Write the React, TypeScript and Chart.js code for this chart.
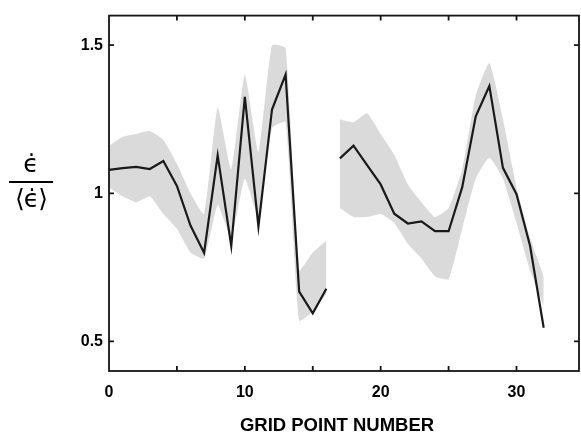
import React, { useEffect, useRef } from "react";
import { Chart, registerables } from "chart.js";

Chart.register(...registerables);

// Grid point numbers (x)
const gridPoints = [0, 1, 2, 3, 4, 5, 6, 7, 8, 9, 10, 11, 12, 13, 14, 15, 16, 17, 18, 19, 20, 21, 22, 23, 24, 25, 26, 27, 28, 29, 30, 31, 32];
// Model strain-rate ratio (black line)
const strainRatio = [1.079, 1.085, 1.089, 1.082, 1.109, 1.025, 0.891, 0.799, 1.128, 0.822, 1.326, 0.888, 1.283, 1.401, 0.668, 0.595, 0.678, 1.118, 1.161, 1.095, 1.03, 0.931, 0.898, 0.905, 0.872, 0.872, 1.02, 1.26, 1.362, 1.086, 0.997, 0.822, 0.546];
// Observed scatter envelope (gray cloud)
const cloudUpper = [1.16, 1.19, 1.2, 1.21, 1.18, 1.1, 1.0, 0.93, 1.29, 1.08, 1.4, 1.14, 1.5, 1.49, 0.74, 0.8, 0.84, 1.25, 1.24, 1.27, 1.2, 1.13, 1.03, 0.97, 0.92, 0.95, 1.08, 1.33, 1.44, 1.25, 1.02, 0.85, 0.72];
const cloudLower = [1.02, 0.99, 0.97, 0.99, 0.93, 0.88, 0.8, 0.78, 0.96, 0.85, 1.05, 0.92, 1.22, 1.24, 0.57, 0.6, 0.66, 0.95, 0.92, 0.92, 0.93, 0.9, 0.83, 0.78, 0.72, 0.71, 0.88, 1.05, 1.12, 1.05, 0.9, 0.74, 0.62];
const gapAfter = 16;
const xTickValues = [0, 5, 10, 15, 20, 25, 30];
const xLabelValues = [0, 10, 20, 30];
const yTickValues = [0.5, 1, 1.5];
const xTitle = "GRID POINT NUMBER";

function withGap(values: number[]) {
  const out: { x: number; y: number | null }[] = [];
  gridPoints.forEach((g, i) => {
    out.push({ x: g, y: values[i] });
    if (g === gapAfter) out.push({ x: g + 0.5, y: null });
  });
  return out;
}

const framePlugin = {
  id: "frame",
  afterDraw(chart: any) {
    const { ctx, chartArea } = chart;
    const { left, right, top, bottom } = chartArea;
    const xs = chart.scales.x;
    const ys = chart.scales.y;
    ctx.save();
    ctx.strokeStyle = "#151515";
    ctx.lineWidth = 1.8;
    ctx.strokeRect(left, top, right - left, bottom - top);
    const tl = 5;
    ctx.beginPath();
    xTickValues.forEach((v) => {
      const px = xs.getPixelForValue(v);
      if (px <= left + 1 || px >= right - 1) return;
      ctx.moveTo(px, bottom);
      ctx.lineTo(px, bottom - tl);
      ctx.moveTo(px, top);
      ctx.lineTo(px, top + tl);
    });
    yTickValues.forEach((v) => {
      const py = ys.getPixelForValue(v);
      ctx.moveTo(left, py);
      ctx.lineTo(left + tl, py);
      ctx.moveTo(right, py);
      ctx.lineTo(right - tl, py);
    });
    ctx.stroke();
    ctx.restore();
  },
};

function App() {
  const ref = useRef<HTMLCanvasElement | null>(null);
  useEffect(() => {
    if (!ref.current) return;
    const tickFont = { family: "'Liberation Sans', Arial, sans-serif", size: 16, weight: "bold" as const };
    const chart = new Chart(ref.current, {
      type: "line",
      data: {
        datasets: [
          {
            label: "model",
            data: withGap(strainRatio),
            borderColor: "#1a1a1a",
            borderWidth: 2.2,
            pointRadius: 0,
            tension: 0,
            spanGaps: false,
            fill: false,
          },
          {
            label: "cloudLower",
            data: withGap(cloudLower),
            borderColor: "rgba(0,0,0,0)",
            borderWidth: 0,
            pointRadius: 0,
            tension: 0.15,
            spanGaps: false,
            fill: false,
          },
          {
            label: "cloudUpper",
            data: withGap(cloudUpper),
            borderColor: "rgba(0,0,0,0)",
            backgroundColor: "rgba(205,205,205,0.75)",
            borderWidth: 0,
            pointRadius: 0,
            tension: 0.15,
            spanGaps: false,
            fill: "-1",
          },
        ],
      },
      options: {
        animation: false,
        responsive: false,
        layout: { padding: { left: 0, right: 2, top: 7, bottom: 0 } },
        plugins: { legend: { display: false }, tooltip: { enabled: false } },
        scales: {
          x: {
            type: "linear",
            min: 0,
            max: 34.6,
            grid: { display: false, drawTicks: false },
            border: { display: false },
            afterBuildTicks: (s: any) => {
              s.ticks = xTickValues.map((v) => ({ value: v }));
            },
            afterFit: (s: any) => {
              s.height = 67;
            },
            ticks: {
              autoSkip: false,
              maxRotation: 0,
              padding: 12,
              color: "#000",
              font: tickFont,
              callback: (v: any) => (xLabelValues.includes(Number(v)) ? String(v) : ""),
            },
          },
          y: {
            min: 0.4,
            max: 1.6,
            grid: { display: false, drawTicks: false },
            border: { display: false },
            afterBuildTicks: (s: any) => {
              s.ticks = yTickValues.map((v) => ({ value: v }));
            },
            afterFit: (s: any) => {
              s.width = 109;
            },
            ticks: {
              padding: 6,
              color: "#000",
              font: tickFont,
              callback: (v: any) => String(v),
            },
          },
        },
      },
      plugins: [framePlugin],
    });
    return () => chart.destroy();
  }, []);

  const epsFont = "'DejaVu Sans', sans-serif";
  return (
    <div style={{ position: "fixed", left: 0, top: 0, width: 581, height: 438, background: "#fff" }}>
      <canvas ref={ref} width={581} height={438} style={{ position: "absolute", left: 0, top: 0 }} />
      <div
        style={{
          position: "absolute",
          left: 237,
          top: 414,
          width: 200,
          textAlign: "center",
          fontFamily: "'Liberation Sans', Arial, sans-serif",
          fontWeight: "bold",
          fontSize: 18.5,
          lineHeight: "22px",
          color: "#000",
          whiteSpace: "nowrap",
        }}
      >
        {xTitle}
      </div>
      <div
        style={{
          position: "absolute",
          left: 9,
          top: 151,
          width: 44,
          textAlign: "center",
          fontFamily: epsFont,
          fontSize: 25,
          color: "#000",
          lineHeight: "26px",
        }}
      >
        <div>{"ϵ\u0307"}</div>
        <div style={{ borderTop: "2px solid #000", marginTop: 4, paddingTop: 3, letterSpacing: -1 }}>{"⟨ϵ\u0307⟩"}</div>
      </div>
    </div>
  );
}

export default App;
